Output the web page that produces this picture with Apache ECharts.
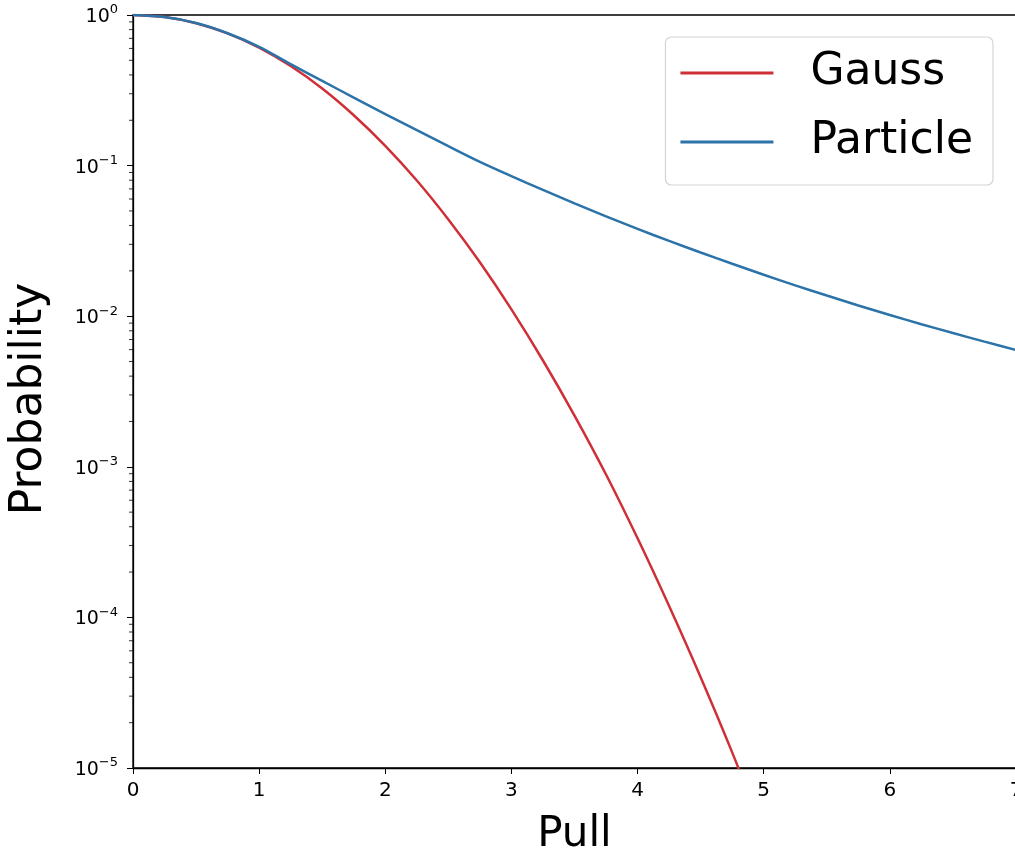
<!DOCTYPE html>
<html>
<head>
<meta charset="utf-8">
<title>Pull probability</title>
<script src="https://cdn.jsdelivr.net/npm/echarts@6/dist/echarts.min.js"></script>
<style>
  html, body { margin: 0; padding: 0; background: #ffffff; }
  #chart { width: 1015px; height: 854px; }
</style>
</head>
<body>
<div id="chart"></div>
<script>
// Pull values (x) shared by both curves
const pull = [0, 0.25, 0.5, 0.75, 1, 1.25, 1.5, 1.75, 2, 2.25, 2.5, 2.75, 3, 3.25, 3.5, 3.75,
              4, 4.25, 4.5, 4.75, 5, 5.25, 5.5, 5.75, 6, 6.25, 6.5, 6.75, 7];

// Gaussian tail probability (stops once it has left the plotted range)
const gauss = [1.0, 0.969, 0.8825, 0.755, 0.6065, 0.458, 0.325, 0.216, 0.1353, 0.0796, 0.0439,
               0.0228, 0.0111, 0.00508, 0.00219, 0.000889, 0.000335, 0.000119, 0.0000401,
               0.0000127, 0.0000037];

// Particle tail probability
const particle = [1.0, 0.97, 0.885, 0.757, 0.615, 0.472, 0.365, 0.283, 0.220, 0.172, 0.1346,
                  0.1059, 0.0851, 0.0689, 0.0561, 0.0460, 0.0380, 0.0316, 0.0265, 0.0223,
                  0.01884, 0.01603, 0.01371, 0.01178, 0.01019, 0.00885, 0.00773, 0.00678, 0.00597];

// Axis ticks
const xTicks = [0, 1, 2, 3, 4, 5, 6, 7];
const yMajorExponents = [0, -1, -2, -3, -4, -5];
const yMinorTicks = [];
for (let e = -5; e < 0; e++) {
  for (let k = 2; k <= 9; k++) yMinorTicks.push(k * Math.pow(10, e));
}

const FONT = 'DejaVu Sans';
const RED = '#cf3038';
const BLUE = '#2b73a8';

const chart = echarts.init(document.getElementById('chart'), null, { renderer: 'canvas' });

function powLabel(v) {
  const e = Math.round(Math.log10(v));
  const s = String(e).replace('-', '\u2212');
  return '{b|10}{s|' + s + '}';
}

chart.setOption({
  animation: false,
  backgroundColor: '#ffffff',
  textStyle: { fontFamily: FONT },
  grid: {
    left: 133, top: 15, right: -1, bottom: 86,
    containLabel: false, outerBoundsMode: 'none',
    show: true, borderColor: '#000000', borderWidth: 1.3, backgroundColor: 'transparent'
  },
  legend: {
    right: 22, top: 37,
    orient: 'vertical',
    data: ['Gauss', 'Particle'],
    icon: 'rect',
    itemWidth: 93, itemHeight: 3, itemGap: 19,
    backgroundColor: 'rgba(255,255,255,0.85)',
    borderColor: '#d4d4d4', borderWidth: 1.2, borderRadius: 6,
    padding: [11, 20, 18, 15],
    textStyle: {
      fontFamily: FONT, fontSize: 44, color: '#000000',
      lineHeight: 50, padding: [0, 0, 0, 32]
    }
  },
  xAxis: {
    type: 'value', min: 0, max: 7, interval: 1,
    name: 'Pull', nameLocation: 'middle', nameGap: 46,
    nameTextStyle: { fontFamily: FONT, fontSize: 42, color: '#000000' },
    axisLine: { show: true, lineStyle: { color: '#000000', width: 1.3 } },
    axisTick: { show: true, inside: false, length: 6, lineStyle: { color: '#000000', width: 1 } },
    axisLabel: {
      fontFamily: FONT, fontSize: 20, color: '#000000', margin: 13,
      formatter: v => (xTicks.indexOf(v) >= 0 ? String(v) : '')
    },
    splitLine: { show: false }
  },
  yAxis: {
    type: 'log', logBase: 10, min: 1e-5, max: 1,
    name: 'Probability', nameLocation: 'middle', nameGap: 81,
    nameTextStyle: { fontFamily: FONT, fontSize: 44, color: '#000000', padding: [0, 15, 0, 0] },
    axisLine: { show: true, lineStyle: { color: '#000000', width: 1.3 } },
    axisTick: { show: true, inside: false, length: 6, lineStyle: { color: '#000000', width: 1 } },
    axisLabel: {
      margin: 15,
      formatter: v => (yMajorExponents.indexOf(Math.round(Math.log10(v))) >= 0 ? powLabel(v) : ''),
      rich: {
        b: { fontFamily: FONT, fontSize: 19, color: '#000000', verticalAlign: 'bottom' },
        s: { fontFamily: FONT, fontSize: 13, color: '#000000', verticalAlign: 'top', padding: [0, 0, 10, 0] }
      }
    },
    splitLine: { show: false }
  },
  series: [
    {
      name: 'Gauss', type: 'line',
      data: gauss.map((v, i) => [pull[i], v]),
      showSymbol: false, symbol: 'none', smooth: 0.3, clip: true,
      lineStyle: { color: RED, width: 2.5 }, itemStyle: { color: RED },
      z: 3
    },
    {
      name: 'Particle', type: 'line',
      data: particle.map((v, i) => [pull[i], v]),
      showSymbol: false, symbol: 'none', smooth: 0.3, clip: true,
      lineStyle: { color: BLUE, width: 2.5 }, itemStyle: { color: BLUE },
      z: 4
    },
    {
      // minor log ticks at 2..9 x 10^k on the y axis
      name: 'minorTicks', type: 'scatter', silent: true, clip: false,
      data: yMinorTicks.map(v => [0, v]),
      symbol: 'rect', symbolSize: [4, 1], symbolOffset: [-2, 0],
      itemStyle: { color: '#000000' },
      tooltip: { show: false }, z: 5
    }
  ]
});
</script>
</body>
</html>
